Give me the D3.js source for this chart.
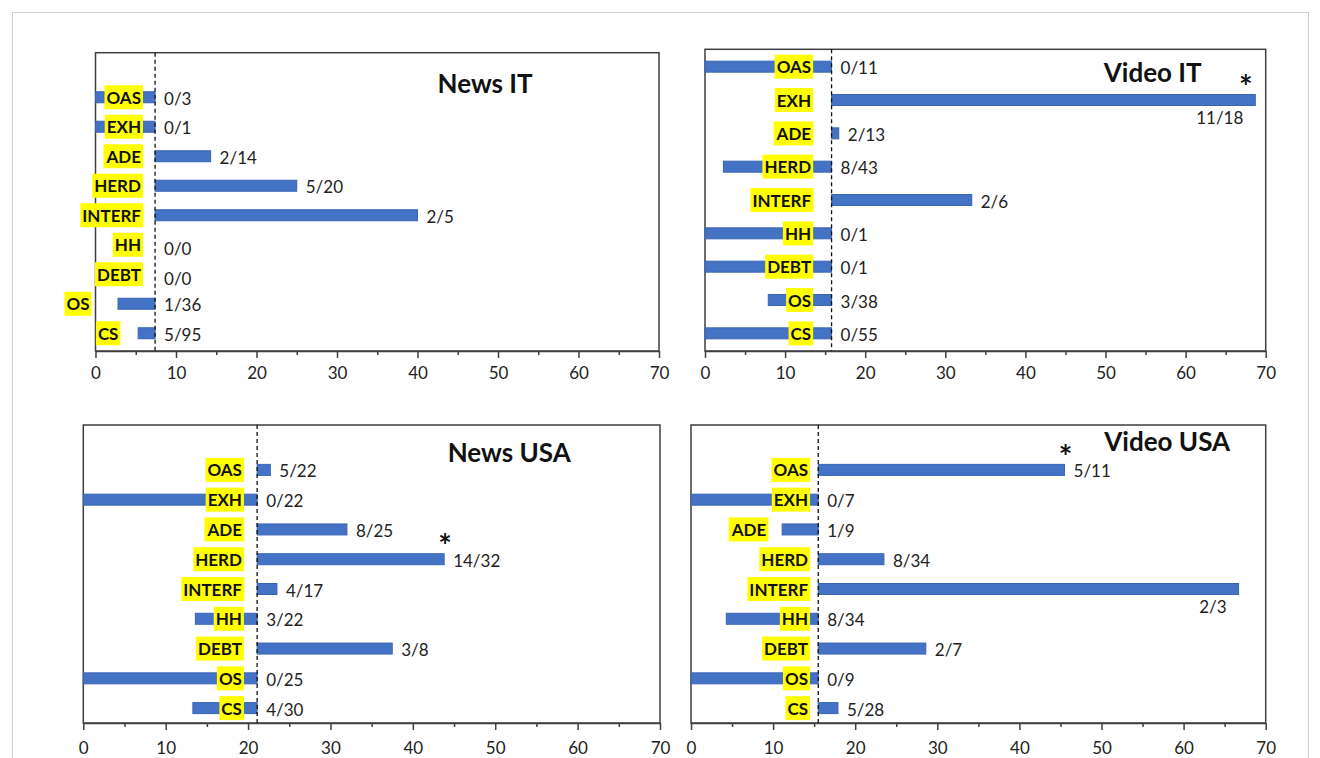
<!DOCTYPE html>
<html>
<head>
<meta charset="utf-8">
<script src="https://cdn.jsdelivr.net/npm/d3@7"></script>
<style>
  html, body { margin: 0; padding: 0; background: #ffffff; }
  svg { display: block; }
  text { font-family: Lato, "Open Sans", "DejaVu Sans", sans-serif; }
</style>
</head>
<body>
<svg id="chart" width="1320" height="758"></svg>
<script>
// ---------------- data ----------------
const categories = ["OAS", "EXH", "ADE", "HERD", "INTERF", "HH", "DEBT", "OS", "CS"];
const xTicks = [0, 10, 20, 30, 40, 50, 60, 70];
const xMinorTicks = [5, 15, 25, 35, 45, 55, 65];

const newsItTitle = "News IT";
const newsItValues = [0, 0, 14.3, 25, 40, null, null, 2.8, 5.3];
const newsItLabels = ["0/3", "0/1", "2/14", "5/20", "2/5", "0/0", "0/0", "1/36", "5/95"];
const newsItBaseline = 7.4;
const newsItSignificant = [];

const videoItTitle = "Video IT";
const videoItValues = [0, 68.7, 16.7, 2.3, 33.3, 0, 0, 7.9, 0];
const videoItLabels = ["0/11", "11/18", "2/13", "8/43", "2/6", "0/1", "0/1", "3/38", "0/55"];
const videoItBaseline = 15.8;
const videoItSignificant = ["EXH"];

const newsUsaTitle = "News USA";
const newsUsaValues = [22.7, 0, 32, 43.8, 23.5, 13.6, 37.5, 0, 13.3];
const newsUsaLabels = ["5/22", "0/22", "8/25", "14/32", "4/17", "3/22", "3/8", "0/25", "4/30"];
const newsUsaBaseline = 21.1;
const newsUsaSignificant = ["HERD"];

const videoUsaTitle = "Video USA";
const videoUsaValues = [45.5, 0, 11.1, 23.5, 66.7, 4.3, 28.6, 0, 17.9];
const videoUsaLabels = ["5/11", "0/7", "1/9", "8/34", "2/3", "8/34", "2/7", "0/9", "5/28"];
const videoUsaBaseline = 15.5;
const videoUsaSignificant = ["OAS"];

// ---------------- layout (positions only) ----------------
const layouts = [
  { x0: 95.5, x1: 659,    top: 52.7, axisY: 351, rowTop: 82.5, rowBottom: 348, catGap: 1.5, titleX: 48.4, titleY: 93,  tickPad: 9,
    catOverride: { OS: -0.5, CS: 3.1 } },
  { x0: 705,  x1: 1265.7, top: 49.3, axisY: 351, rowTop: 50,   rowBottom: 350, catGap: 2.3, titleX: 55.9, titleY: 82,  tickPad: 9,
    catOverride: {} },
  { x0: 83.3, x1: 660,    top: 425,  axisY: 723, rowTop: 455,  rowBottom: 723, catGap: 1.6, titleX: 51.7, titleY: 462, tickPad: 12,
    catOverride: {} },
  { x0: 691,  x1: 1265.7, top: 425,  axisY: 723, rowTop: 455,  rowBottom: 723, catGap: 1.0, titleX: 58.0, titleY: 451, tickPad: 12,
    catOverride: { ADE: 9.4 } }
];

const panels = [
  { title: newsItTitle,   values: newsItValues,   labels: newsItLabels,   baseline: newsItBaseline,   sig: newsItSignificant },
  { title: videoItTitle,  values: videoItValues,  labels: videoItLabels,  baseline: videoItBaseline,  sig: videoItSignificant },
  { title: newsUsaTitle,  values: newsUsaValues,  labels: newsUsaLabels,  baseline: newsUsaBaseline,  sig: newsUsaSignificant },
  { title: videoUsaTitle, values: videoUsaValues, labels: videoUsaLabels, baseline: videoUsaBaseline, sig: videoUsaSignificant }
];

const svg = d3.select("#chart");

// outer figure border
svg.append("rect")
  .attr("x", 12.5).attr("y", 12.5)
  .attr("width", 1296).attr("height", 760)
  .attr("fill", "none").attr("stroke", "#cfcfcf").attr("stroke-width", 1);

const barColor = "#4472c4";
const barStroke = "#3a65b5";
const axisColor = "#3f3f3f";
const barH = 11;

panels.forEach((p, i) => {
  const L = layouts[i];
  const g = svg.append("g");
  const x = d3.scaleLinear().domain([0, 70]).range([L.x0, L.x1]);
  const y = d3.scaleBand().domain(categories).range([L.rowTop, L.rowBottom]);
  const cy = c => y(c) + y.bandwidth() / 2;

  // frame
  g.append("rect")
    .attr("x", L.x0).attr("y", L.top)
    .attr("width", L.x1 - L.x0).attr("height", L.axisY - L.top)
    .attr("fill", "none").attr("stroke", axisColor).attr("stroke-width", 1.5);

  // axis (major ticks with labels)
  const axis = d3.axisBottom(x).tickValues(xTicks).tickSize(7).tickSizeOuter(0).tickPadding(L.tickPad)
    .tickFormat(d3.format("d"));
  const ag = g.append("g").attr("transform", `translate(0,${L.axisY})`).call(axis);
  ag.select(".domain").attr("stroke", axisColor).attr("stroke-width", 1.5);
  ag.selectAll(".tick line").attr("stroke", axisColor).attr("stroke-width", 1.5);
  ag.selectAll(".tick text").attr("fill", "#222").style("font-size", "17px")
    .style("font-family", "Lato, 'Open Sans', sans-serif");

  // minor ticks
  const minor = d3.axisBottom(x).tickValues(xMinorTicks).tickSize(4).tickSizeOuter(0).tickFormat("");
  const mg = g.append("g").attr("transform", `translate(0,${L.axisY})`).call(minor);
  mg.select(".domain").remove();
  mg.selectAll(".tick line").attr("stroke", axisColor).attr("stroke-width", 1.5);

  // bars (from baseline to value)
  const rows = categories.map((c, k) => ({ cat: c, v: p.values[k], label: p.labels[k] }));
  g.selectAll("rect.bar")
    .data(rows.filter(r => r.v !== null))
    .join("rect")
    .attr("class", "bar")
    .attr("x", r => x(Math.min(r.v, p.baseline)))
    .attr("width", r => Math.abs(x(r.v) - x(p.baseline)))
    .attr("y", r => cy(r.cat) - barH / 2)
    .attr("height", barH)
    .attr("fill", barColor)
    .attr("stroke", barStroke)
    .attr("stroke-width", 1);

  // dashed baseline
  g.append("line")
    .attr("x1", x(p.baseline)).attr("x2", x(p.baseline))
    .attr("y1", L.top).attr("y2", L.axisY)
    .attr("stroke", "#111").attr("stroke-width", 1.3)
    .attr("stroke-dasharray", "4,3");

  // category labels with yellow boxes
  rows.forEach(r => {
    const right = (r.cat in L.catOverride) ? x(L.catOverride[r.cat]) : x(p.baseline - L.catGap);
    const lg = g.append("g");
    const t = lg.append("text")
      .attr("x", right - 2).attr("y", cy(r.cat))
      .attr("text-anchor", "end")
      .attr("dominant-baseline", "central")
      .style("font-size", "17px").style("font-weight", "700")
      .attr("fill", "#111")
      .text(r.cat);
    const bb = t.node().getBBox();
    lg.insert("rect", "text")
      .attr("x", bb.x - 2).attr("y", cy(r.cat) - 12)
      .attr("width", bb.width + 4).attr("height", 24)
      .attr("fill", "#ffff00");
  });

  // value labels
  rows.forEach(r => {
    const v = r.v === null ? p.baseline : r.v;
    if (v > 60) {
      g.append("text")
        .attr("x", x(v) - 12).attr("y", cy(r.cat) + 17)
        .attr("text-anchor", "end").attr("dominant-baseline", "central")
        .style("font-size", "17px").attr("fill", "#222")
        .text(r.label);
    } else {
      g.append("text")
        .attr("x", x(Math.max(v, p.baseline)) + 9).attr("y", cy(r.cat) + (r.v === null ? 4 : 1))
        .attr("text-anchor", "start").attr("dominant-baseline", "central")
        .style("font-size", "17px").attr("fill", "#222")
        .text(r.label);
    }
  });

  // significance asterisks
  rows.filter(r => p.sig.includes(r.cat)).forEach(r => {
    g.append("text")
      .attr("x", Math.min(x(r.v) + 1, L.x1 - 20)).attr("y", cy(r.cat) - 1)
      .attr("text-anchor", "middle")
      .style("font-size", "32px").style("font-weight", "700")
      .attr("fill", "#111")
      .text("*");
  });

  // panel title
  g.append("text")
    .attr("x", x(L.titleX)).attr("y", L.titleY)
    .attr("text-anchor", "middle")
    .style("font-size", "26px").style("font-weight", "700")
    .attr("fill", "#111")
    .text(p.title);
});
</script>
</body>
</html>
